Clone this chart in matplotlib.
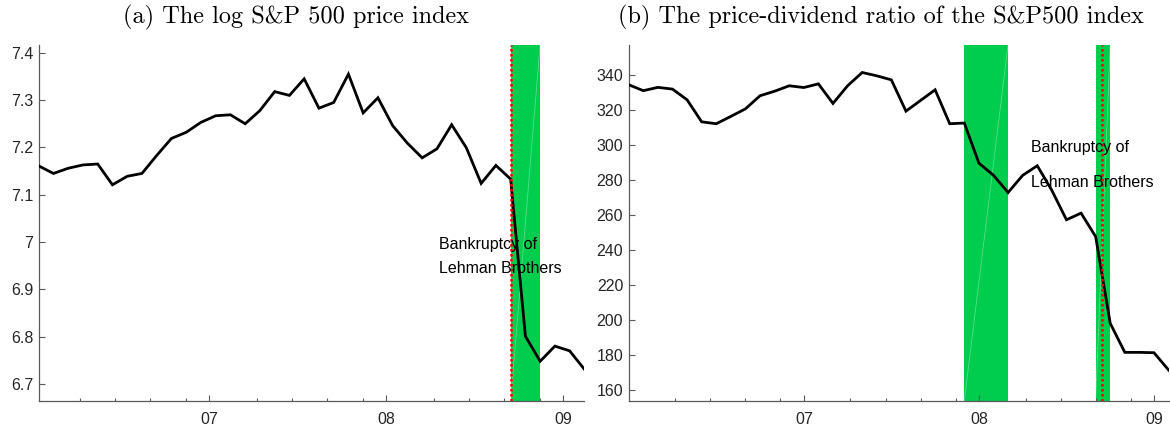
import numpy as np
import matplotlib
matplotlib.use('Agg')
import matplotlib.pyplot as plt
from matplotlib.ticker import FixedLocator, FuncFormatter

# monthly observations, Jan 2006 .. Feb 2009 (x in months since Jan 2006)
months = np.arange(38)
log_sp500 = [7.161, 7.145, 7.156, 7.163, 7.165, 7.121, 7.139, 7.145, 7.183, 7.219,
             7.232, 7.253, 7.267, 7.269, 7.250, 7.278, 7.318, 7.310, 7.345, 7.283,
             7.295, 7.355, 7.273, 7.305, 7.246, 7.209, 7.178, 7.197, 7.248, 7.199,
             7.124, 7.162, 7.133, 6.801, 6.748, 6.780, 6.770, 6.731]
pd_ratio = [334.5, 331.1, 333.0, 332.0, 325.9, 313.3, 312.2, 316.4, 320.7, 328.2,
            330.8, 333.9, 332.9, 335.0, 323.8, 333.9, 341.5, 339.6, 337.3, 319.4,
            325.5, 331.6, 312.2, 312.6, 289.7, 282.7, 272.9, 282.7, 288.2, 274.1,
            257.3, 261.1, 247.7, 198.1, 181.5, 181.5, 181.3, 171.4]

day_offset_left = 0.43          # price index is dated mid-month
lehman = 32.47                  # 15 Sep 2008
bands_left = [(32, 34)]         # in observation index
bands_right = [(23, 26), (32, 33)]

year_ticks = [12, 24, 36]
year_labels = ['07', '08', '09']
minor_ticks = [3.2, 5.6, 8.0, 10.4, 15.2, 17.6, 20.0, 22.4, 27.2, 29.6, 32.0, 34.4]

GREEN = '#00cc4d'
SPINE = '#5a5a5a'
TXT = '#262626'

W, H = 1170, 429
fig = plt.figure(figsize=(W / 100, H / 100), dpi=100)


def px(l, r, t, b):
    return [l / W, 1 - b / H, (r - l) / W, (b - t) / H]


def style(ax):
    for s in ['top', 'right']:
        ax.spines[s].set_visible(False)
    for s in ['left', 'bottom']:
        ax.spines[s].set_color(SPINE)
        ax.spines[s].set_linewidth(0.9)
    ax.xaxis.set_major_locator(FixedLocator(year_ticks))
    ax.set_xticklabels(year_labels)
    ax.xaxis.set_minor_locator(FixedLocator(minor_ticks))
    ax.tick_params(which='major', direction='in', length=4, width=0.8,
                   color=SPINE, labelsize=11.5, labelcolor=TXT, pad=8)
    ax.tick_params(which='minor', direction='in', length=2, width=0.8, color=SPINE)
    ax.tick_params(axis='y', pad=4)
    for lab in ax.get_xticklabels() + ax.get_yticklabels():
        lab.set_family(['Liberation Sans', 'DejaVu Sans'])


def draw(ax, x, y, bands, ylim, note_y):
    for i0, i1 in bands:
        ax.axvspan(x[i0], x[i1], color=GREEN, lw=0, zorder=1)
        # faint seam of the patch, as rendered in the original
        ax.plot([x[i0], x[i1]], ylim, color='white', lw=0.6, alpha=0.35, zorder=1.5)
    ax.plot(x, y, color='black', lw=2, zorder=3, solid_joinstyle='miter')
    ax.axvline(lehman, color='red', lw=1.8, ls=(0, (1, 1)), zorder=4)
    ax.set_xlim(x[0], x[-1])
    ax.set_ylim(*ylim)
    ax.text(27.6, note_y[0], 'Bankruptcy of', fontsize=11.5, va='baseline',
            family=['Liberation Sans', 'DejaVu Sans'], zorder=5)
    ax.text(27.6, note_y[1], 'Lehman Brothers', fontsize=11.5, va='baseline',
            family=['Liberation Sans', 'DejaVu Sans'], zorder=5)
    style(ax)


ax1 = fig.add_axes(px(38.7, 584.4, 44.5, 401))
draw(ax1, months + day_offset_left, log_sp500, bands_left, (6.664, 7.4176),
     (6.986, 6.935))
ax1.yaxis.set_major_locator(FixedLocator(np.round(np.arange(6.7, 7.41, 0.1), 1)))
ax1.yaxis.set_major_formatter(FuncFormatter(lambda v, p: '%g' % round(v, 1)))

ax2 = fig.add_axes(px(628.7, 1168.6, 44.5, 401))
draw(ax2, months.astype(float), pd_ratio, bands_right, (153.7, 357.5),
     (296.1, 275.8))
ax2.yaxis.set_major_locator(FixedLocator(np.arange(160, 341, 20)))
ax2.yaxis.set_major_formatter(FuncFormatter(lambda v, p: '%d' % v))

for a in (ax1, ax2):
    for lab in a.get_yticklabels():
        lab.set_family(['Liberation Sans', 'DejaVu Sans'])

title_font = dict(family=['cmr10', 'DejaVu Serif'], fontsize=17.5, ha='center', va='center')
fig.text(296 / W, 1 - 17 / H, '(a) The log S&P 500 price index', **title_font)
fig.text(881 / W, 1 - 17 / H, '(b) The price-dividend ratio of the S&P500 index', **title_font)

fig.savefig('out.png', dpi=100)
